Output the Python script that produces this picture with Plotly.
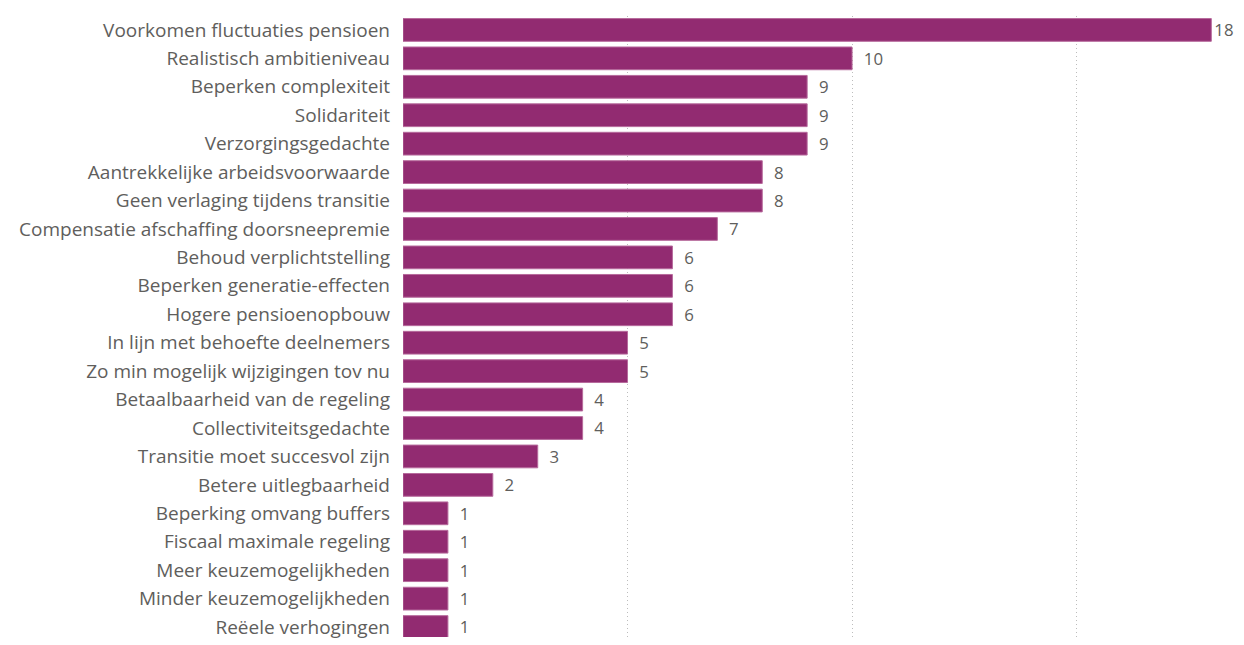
import plotly.graph_objects as go

# categorieën van boven naar beneden
labels = [
    "Voorkomen fluctuaties pensioen",
    "Realistisch ambitieniveau",
    "Beperken complexiteit",
    "Solidariteit",
    "Verzorgingsgedachte",
    "Aantrekkelijke arbeidsvoorwaarde",
    "Geen verlaging tijdens transitie",
    "Compensatie afschaffing doorsneepremie",
    "Behoud verplichtstelling",
    "Beperken generatie-effecten",
    "Hogere pensioenopbouw",
    "In lijn met behoefte deelnemers",
    "Zo min mogelijk wijzigingen tov nu",
    "Betaalbaarheid van de regeling",
    "Collectiviteitsgedachte",
    "Transitie moet succesvol zijn",
    "Betere uitlegbaarheid",
    "Beperking omvang buffers",
    "Fiscaal maximale regeling",
    "Meer keuzemogelijkheden",
    "Minder keuzemogelijkheden",
    "Reëele verhogingen",
]
counts = [18, 10, 9, 9, 9, 8, 8, 7, 6, 6, 6, 5, 5, 4, 4, 3, 2, 1, 1, 1, 1, 1]

BAR_COLOR = "#922B71"
TEXT_COLOR = "#605E5C"
GRID_COLOR = "#BDBDBD"
FONT = "Open Sans"

# langste balk: label iets dichter op de balk zodat het binnen beeld blijft
bar_text = [f"{c}" if c == max(counts) else f"  {c}" for c in counts]

fig = go.Figure(
    go.Bar(
        x=counts,
        y=labels,
        orientation="h",
        marker=dict(color=BAR_COLOR, line=dict(color="#B66A9C", width=1)),
        text=bar_text,
        textposition="outside",
        cliponaxis=False,
        textfont=dict(color=TEXT_COLOR, size=17, family=FONT),
    )
)

# de pagina heeft 8px body-marge
fig.update_layout(
    width=1228,
    height=637,
    plot_bgcolor="white",
    paper_bgcolor="white",
    bargap=0.2,
    showlegend=False,
    font=dict(family=FONT, color=TEXT_COLOR, size=18),
    margin=dict(l=395, r=0, t=8, b=8, autoexpand=False),
)

fig.update_xaxes(
    range=[0, 18.55],
    tick0=0,
    dtick=5,
    showgrid=True,
    gridcolor=GRID_COLOR,
    griddash="1px,3px",
    gridwidth=1,
    zeroline=False,
    showticklabels=False,
    showline=False,
)
fig.update_yaxes(
    range=[21.35, -0.49],
    showgrid=False,
    ticks="",
    ticklabelstandoff=12,
    tickfont=dict(color=TEXT_COLOR, size=19, family=FONT),
)

fig.write_html("out.html")
